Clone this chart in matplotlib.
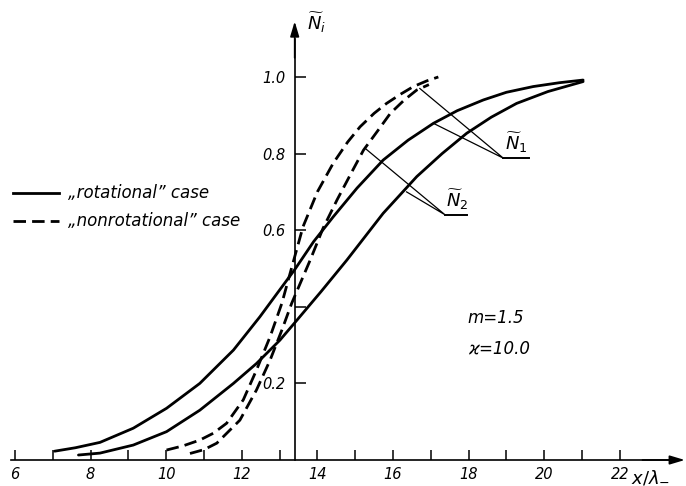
import matplotlib
matplotlib.use("Agg")
import matplotlib.pyplot as plt

plt.rcParams["font.family"] = ["DejaVu Sans"]
plt.rcParams["mathtext.fontset"] = "dejavusans"

# "rotational" case (solid), upper curve -> N1
rot_a_x = [7.05, 7.6, 8.25, 9.13, 10.01, 10.89, 11.78, 12.48, 13.01, 13.4, 13.9, 14.42,
           15.05, 15.74, 16.4, 17.07, 17.7, 18.39, 19.0, 19.71, 20.4, 21.03]
rot_a_y = [0.023, 0.032, 0.046, 0.083, 0.135, 0.20, 0.287, 0.374, 0.445, 0.497, 0.57, 0.635,
           0.71, 0.783, 0.835, 0.879, 0.912, 0.94, 0.96, 0.975, 0.985, 0.992]

# "rotational" case (solid), lower curve -> N2
rot_b_x = [7.68, 8.25, 9.13, 10.01, 10.89, 11.78, 12.39, 13.01, 13.39, 14.1, 14.78, 15.74,
           16.63, 17.3, 17.95, 18.6, 19.27, 20.1, 21.03]
rot_b_y = [0.013, 0.018, 0.039, 0.074, 0.13, 0.20, 0.252, 0.313, 0.357, 0.44, 0.522, 0.644,
           0.74, 0.80, 0.853, 0.895, 0.931, 0.962, 0.988]

# "nonrotational" case (dashed), outer curve
nrot_c_x = [10.01, 10.45, 10.89, 11.25, 11.6, 12.04, 12.39, 12.75, 13.06, 13.23, 13.62, 14.0,
            14.42, 14.8, 15.13, 15.5, 15.83, 16.2, 16.54, 16.9, 17.2]
nrot_c_y = [0.026, 0.037, 0.052, 0.07, 0.096, 0.157, 0.235, 0.322, 0.409, 0.47, 0.609, 0.70,
            0.775, 0.83, 0.87, 0.905, 0.931, 0.955, 0.975, 0.99, 1.0]

# "nonrotational" case (dashed), inner curve
nrot_d_x = [10.63, 11.0, 11.34, 11.95, 12.39, 12.75, 13.06, 13.32, 13.81, 14.15, 14.52, 14.9,
            15.22, 15.6, 15.93, 16.3, 16.63, 16.95]
nrot_d_y = [0.017, 0.027, 0.044, 0.104, 0.183, 0.261, 0.339, 0.409, 0.522, 0.605, 0.679, 0.75,
            0.809, 0.86, 0.905, 0.94, 0.966, 0.98]

x_ticks = list(range(6, 23))
x_tick_labels = [str(v) if v % 2 == 0 else "" for v in x_ticks]
y_ticks = [0.2, 0.4, 0.6, 0.8, 1.0]
y_tick_labels = ["0.2", "", "0.6", "0.8", "1.0"]

Y_AXIS_AT = 13.4
LW = 2.0
DASH = (4.5, 2.2)
TXT = 12


def draw_axes(ax):
    ax.set_xlim(5.9, 23.75)
    ax.set_ylim(0, 1.16)
    for s in ["top", "right"]:
        ax.spines[s].set_visible(False)
    ax.spines["left"].set_position(("data", Y_AXIS_AT))
    ax.spines["left"].set_bounds(0, 1.1)
    ax.spines["bottom"].set_bounds(5.9, 23.5)
    ax.spines["left"].set_linewidth(1.2)
    ax.spines["bottom"].set_linewidth(1.2)

    ax.set_xticks(x_ticks)
    ax.set_xticklabels(x_tick_labels, fontstyle="italic")
    ax.set_yticks(y_ticks)
    ax.set_yticklabels(y_tick_labels, fontstyle="italic")
    ax.tick_params(axis="x", direction="in", length=7, width=1.1, pad=5, labelsize=10.5)
    ax.tick_params(axis="y", direction="in", length=8, width=1.1, pad=7, labelsize=10.5)

    arrow = dict(arrowstyle="-|>,head_length=0.6,head_width=0.18", color="k",
                 lw=1.2, mutation_scale=15, shrinkA=0, shrinkB=0)
    ax.annotate("", xy=(23.72, 0), xytext=(22.6, 0), arrowprops=arrow, annotation_clip=False)
    ax.annotate("", xy=(Y_AXIS_AT, 1.145), xytext=(Y_AXIS_AT, 1.05), arrowprops=arrow,
                annotation_clip=False)

    ax.text(13.98, 1.14, r"$\widetilde{N}_i$", fontsize=13, ha="center", va="center")
    ax.text(22.3, -0.045, r"$x/\lambda_{-}$", fontsize=13, ha="left", va="center",
            clip_on=False)


def draw_curves(ax):
    ax.plot(rot_a_x, rot_a_y, color="k", lw=LW, solid_capstyle="round")
    ax.plot(rot_b_x, rot_b_y, color="k", lw=LW, solid_capstyle="round")
    ax.plot(nrot_c_x, nrot_c_y, color="k", lw=LW, dashes=DASH)
    ax.plot(nrot_d_x, nrot_d_y, color="k", lw=LW, dashes=DASH)


def draw_labels(ax):
    # legend
    ax.plot([5.94, 7.16], [0.697, 0.697], color="k", lw=LW, clip_on=False)
    ax.plot([5.94, 7.16], [0.625, 0.625], color="k", lw=LW, dashes=DASH, clip_on=False)
    ax.text(7.4, 0.697, "\u201erotational\u201d case", fontsize=TXT, fontstyle="italic",
            va="center")
    ax.text(7.4, 0.625, "\u201enonrotational\u201d case", fontsize=TXT, fontstyle="italic",
            va="center")

    # N1 leaders
    ax.plot([16.71, 18.92, 17.07], [0.970, 0.788, 0.879], color="k", lw=0.9)
    ax.plot([18.92, 19.61], [0.788, 0.788], color="k", lw=1.4)
    ax.text(19.27, 0.795, r"$\widetilde{N}_1$", fontsize=13, ha="center", va="bottom")

    # N2 leaders
    ax.plot([15.26, 17.38, 16.36], [0.814, 0.640, 0.70], color="k", lw=0.9)
    ax.plot([17.38, 17.95], [0.640, 0.640], color="k", lw=1.4)
    ax.text(17.69, 0.647, r"$\widetilde{N}_2$", fontsize=13, ha="center", va="bottom")

    ax.text(17.98, 0.371, "m=1.5", fontsize=TXT, fontstyle="italic", va="center")
    ax.text(17.98, 0.292, "\u03f0=10.0", fontsize=TXT, fontstyle="italic", va="center")


fig = plt.figure(figsize=(6.86, 4.86), dpi=100)
ax = fig.add_axes([0.0163, 0.0535, 0.9836, 0.9142])
draw_axes(ax)
draw_curves(ax)
draw_labels(ax)
fig.savefig("out.png", dpi=100)
